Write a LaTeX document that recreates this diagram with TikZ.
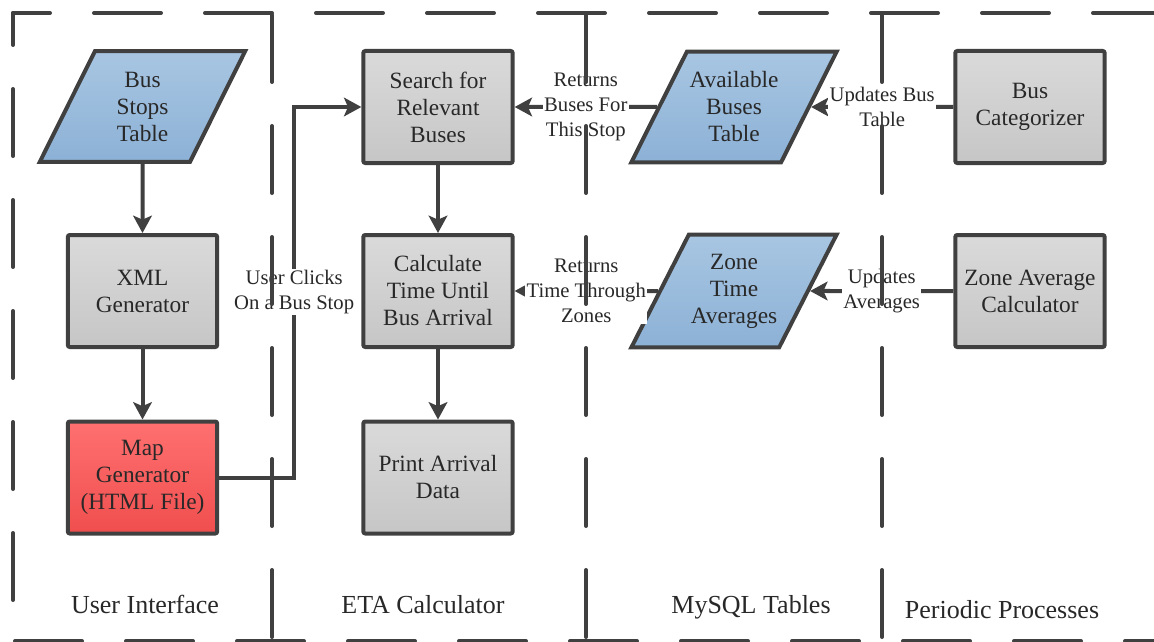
\documentclass[tikz,border=0pt]{standalone}
\usepackage{fontspec}
\setmainfont{Liberation Serif}
\usetikzlibrary{shapes.geometric,arrows.meta}

\definecolor{edge}{RGB}{64,64,64}
\definecolor{ink}{RGB}{40,40,40}
\definecolor{procTop}{RGB}{218,218,218}
\definecolor{procBot}{RGB}{198,198,198}
\definecolor{dbTop}{RGB}{168,198,226}
\definecolor{dbBot}{RGB}{140,177,214}
\definecolor{mapTop}{RGB}{255,112,112}
\definecolor{mapBot}{RGB}{240,78,78}

\begin{document}
\begin{tikzpicture}[x=0.75pt, y=-0.75pt,
	proc/.style={draw=edge, line width=3pt, rounded corners=1.5pt, top color=procTop, bottom color=procBot,
		minimum width=112pt, minimum height=84pt, align=center, text=ink, font=\fontsize{17.5}{20.25}\selectfont},
	dbtable/.style={draw=edge, line width=3pt, top color=dbTop, bottom color=dbBot, shape=trapezium,
		trapezium left angle=63, trapezium right angle=117, trapezium stretches body=true,
		inner xsep=1pt, inner ysep=14.5pt, minimum width=154pt, minimum height=83pt,
		align=center, text=ink, font=\fontsize{17.5}{20.25}\selectfont},
	note/.style={fill=white, inner sep=1pt, align=center, text=ink, font=\fontsize{15.5}{18.75}\selectfont},
	lane/.style={anchor=base, text=ink, font=\fontsize{19.5}{22}\selectfont},
	flow/.style={draw=edge, line width=3pt, -{Stealth[length=13pt,width=14pt,inset=3pt]}},
	border/.style={draw=edge, line width=3pt, line cap=round, dash pattern=on 50.25pt off 33pt}]

	\useasboundingbox (0,0) rectangle (1154,642);

	% user interface
	\node[dbtable] (stops) at (142.5,106.5) {Bus\\Stops\\Table};
	\node[proc] (xml) at (142.5,291) {XML\\Generator};
	\node[proc, top color=mapTop, bottom color=mapBot] (map) at (142.5,477.5) {Map\\Generator\\(HTML File)};

	% eta calculator
	\node[proc] (search) at (438,107) {Search for\\Relevant\\Buses};
	\node[proc] (calc) at (438,291) {Calculate\\Time Until\\Bus Arrival};
	\node[proc] (print) at (438,477.5) {Print Arrival\\Data};

	% mysql tables
	\node[dbtable] (avail) at (734,107) {Available\\Buses\\Table};
	\node[dbtable] (ztime) at (734,291) {Zone\\Time\\Averages};

	% periodic processes
	\node[proc] (cat) at (1030,107) {Bus\\Categorizer};
	\node[proc] (zavg) at (1030,291) {Zone Average\\Calculator};

	\draw[flow] (stops) -- (xml);
	\draw[flow] (xml) -- (map);
	\draw[flow] (search) -- (calc);
	\draw[flow] (calc) -- (print);
	\draw[flow] (map.east) -- ++(75,0) |- node[pos=0.25, note] {User Clicks\\On a Bus Stop} (search.west);
	\draw[flow] (avail) -- node[note] {Returns\\Buses For\\This Stop} (search);
	\draw[flow] (ztime) -- node[note] {Returns\\Time Through\\Zones} (calc);
	\draw[flow] (cat) -- node[note] {Updates Bus\\Table} (avail);
	\draw[flow] (zavg) -- node[note] {Updates\\Averages} (ztime);

	\node[lane] (ui) at (145,613) {User Interface};
	\node[lane] (eta) at (423,613) {ETA Calculator};
	\node[lane] (sql) at (751,613) {MySQL Tables};
	\node[lane] (periodic) at (1002,618) {Periodic Processes};

	% lanes and frame
	\draw[border, dash phase=22.5pt] (13,13) -- (1160,13);
	\draw[border, dash phase=26.25pt] (13,13) -- (13,645);
	\draw[border] (15,641) -- (1160,641);
	\foreach \x in {272,586,882}
		\draw[border] (\x,15) -- (\x,641);
\end{tikzpicture}
\end{document}
